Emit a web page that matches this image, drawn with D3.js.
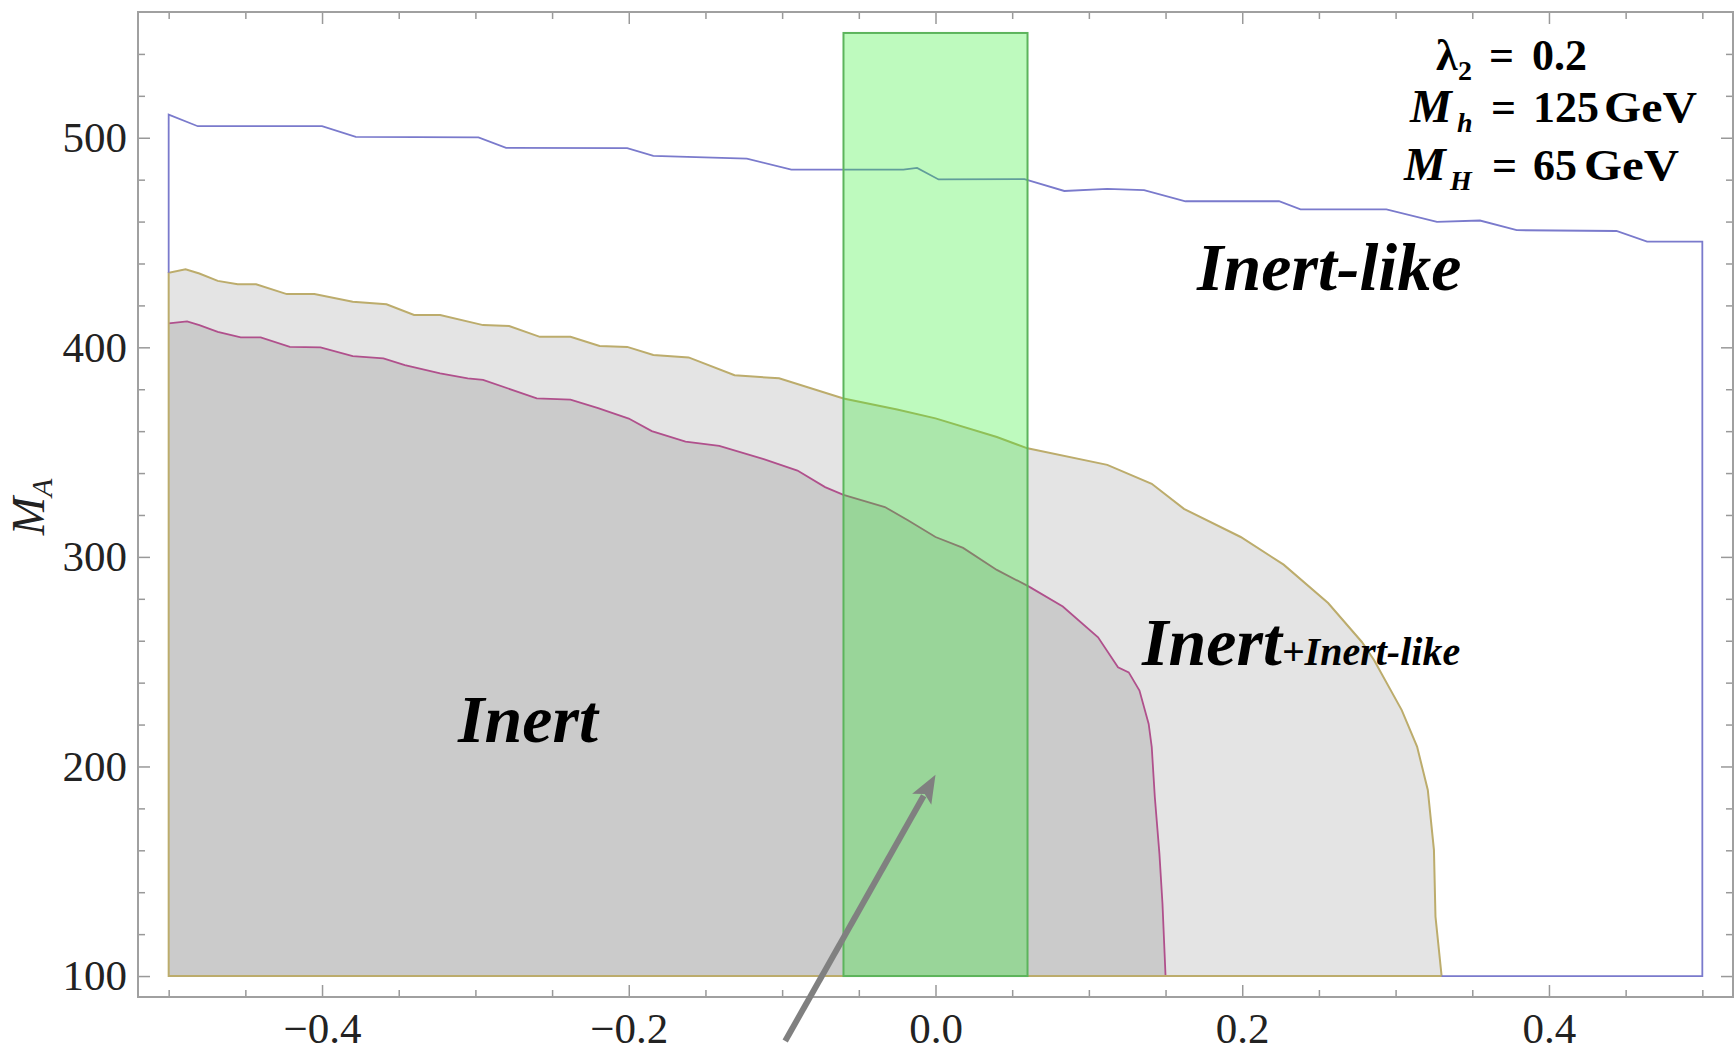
<!DOCTYPE html>
<html>
<head>
<meta charset="utf-8">
<script src="https://cdn.jsdelivr.net/npm/d3@7"></script>
<style>
  body { margin: 0; background: #fff; }
  text { font-family: "Liberation Serif", "DejaVu Serif", serif; }
</style>
</head>
<body>
<script>
// Upper boundary of the Inert-like region (blue), [lambda, M_A]
const inertLikeTop = [
    [-0.5, 511], [-0.481, 505.5], [-0.40, 505.5], [-0.378, 500.4], [-0.298, 500.2],
    [-0.28, 495.2], [-0.201, 495], [-0.184, 491.3], [-0.123, 490], [-0.094, 484.8],
    [-0.021, 484.8], [-0.012, 485.6], [0.002, 480.1], [0.058, 480.3], [0.084, 474.6],
    [0.112, 475.6], [0.136, 475], [0.163, 469.7], [0.224, 469.7], [0.238, 465.8],
    [0.294, 465.8], [0.327, 459.9], [0.355, 460.5], [0.379, 455.9], [0.444, 455.5],
    [0.464, 450.4], [0.5, 450.4]
];

// Upper boundary of the Inert + Inert-like region (olive)
const mixedTop = [
    [-0.5, 435.6], [-0.489, 437.2], [-0.48, 435.2], [-0.468, 431.7], [-0.455, 430.1],
    [-0.443, 430.1], [-0.423, 425.4], [-0.405, 425.4], [-0.38, 421.7], [-0.358, 420.5],
    [-0.34, 415.4], [-0.323, 415.4], [-0.295, 410.6], [-0.278, 410.2], [-0.258, 405],
    [-0.238, 405], [-0.219, 400.6], [-0.201, 400.2], [-0.184, 396.3], [-0.161, 395.2],
    [-0.131, 386.7], [-0.102, 385.2], [-0.06, 375.6], [-0.025, 370.3], [0.0, 366.1],
    [0.04, 357.2], [0.06, 351.8], [0.112, 343.9], [0.141, 334.9], [0.162, 322.9],
    [0.199, 309.5], [0.227, 296.3], [0.256, 278], [0.278, 259.4], [0.286, 250.7],
    [0.304, 226.9], [0.314, 209.5], [0.321, 188.8], [0.325, 160.2], [0.326, 128.4],
    [0.33, 100]
];

// Upper boundary of the Inert region (magenta)
const inertTop = [
    [-0.5, 411.4], [-0.488, 412.4], [-0.48, 410.6], [-0.468, 407.4], [-0.453, 404.7],
    [-0.44, 404.7], [-0.421, 400.2], [-0.401, 400], [-0.38, 395.8], [-0.36, 394.7],
    [-0.346, 391.5], [-0.323, 387.6], [-0.305, 385.2], [-0.295, 384.5], [-0.26, 375.6],
    [-0.238, 375], [-0.22, 371], [-0.2, 366], [-0.185, 360], [-0.163, 355],
    [-0.141, 353], [-0.112, 346.6], [-0.09, 341.2], [-0.072, 333.3], [-0.06, 329.6],
    [-0.033, 323.8], [-0.018, 317.5], [0.0, 309.5], [0.018, 304.3], [0.04, 293.8],
    [0.061, 285.8], [0.083, 276.3], [0.106, 261.6], [0.119, 247.3], [0.126, 244.9],
    [0.133, 236.2], [0.139, 220.3], [0.141, 209.2], [0.143, 185.4], [0.146, 158.4],
    [0.148, 134.5], [0.15, 100]
];

// Allowed band (green)
const bandLambda = [-0.06, 0.06];
const bandMass = [100, 550];

// Arrow pointing into the band: [tail, tip]
const arrowPoints = [[-0.098, 69], [0.0, 196]];

const xMajor = [-0.4, -0.2, 0, 0.2, 0.4];
const yMajor = [100, 200, 300, 400, 500];
const massFloor = 100;

function RegionChart() {
    const width = 1736;
    const height = 1052;
    const margin = { top: 12, right: 3, bottom: 55, left: 138 };

    const x = d3.scaleLinear().domain([-0.52, 0.52]).range([margin.left, width - margin.right]);
    const y = d3.scaleLinear().domain([90, 560]).range([height - margin.bottom, margin.top]);

    const line = d3.line().x(d => x(d[0])).y(d => y(d[1]));

    const svg = d3.create("svg")
        .attr("width", width)
        .attr("height", height)
        .attr("viewBox", [0, 0, width, height]);

    // regions: close each boundary down to the M_A = 100 floor
    const mixedPoly = [[-0.5, massFloor], ...mixedTop];
    const inertPoly = [[-0.5, massFloor], ...inertTop];

    svg.append("path")
        .attr("d", line(mixedPoly) + "Z")
        .attr("fill", "#e4e4e4");

    svg.append("path")
        .attr("d", line(inertPoly) + "Z")
        .attr("fill", "#cbcbcb");

    svg.append("path")
        .attr("d", line(inertTop))
        .attr("fill", "none")
        .attr("stroke", "#b0508c")
        .attr("stroke-width", 1.8);

    svg.append("path")
        .attr("d", line(mixedPoly) + "Z")
        .attr("fill", "none")
        .attr("stroke", "#bcac6c")
        .attr("stroke-width", 2);

    // Inert-like outline: left edge, top, right edge and floor beyond the olive region
    const blueEdge = [[-0.5, mixedTop[0][1]], ...inertLikeTop,
        [0.5, massFloor], [mixedTop[mixedTop.length - 1][0], massFloor]];
    svg.append("path")
        .attr("d", line(blueEdge))
        .attr("fill", "none")
        .attr("stroke", "#7a7acc")
        .attr("stroke-width", 1.8);

    // green band on top, semi-transparent
    svg.append("rect")
        .attr("x", x(bandLambda[0]))
        .attr("y", y(bandMass[1]))
        .attr("width", x(bandLambda[1]) - x(bandLambda[0]))
        .attr("height", y(bandMass[0]) - y(bandMass[1]))
        .attr("fill", "rgb(40,240,40)")
        .attr("fill-opacity", 0.3)
        .attr("stroke", "#5cb45c")
        .attr("stroke-width", 2);

    // frame with inward ticks on all four sides
    const xMinor = d3.range(-0.5, 0.5001, 0.05).filter(v => !xMajor.some(m => Math.abs(m - v) < 1e-6));
    const yMinor = d3.range(100, 541, 20).filter(v => v % 100 !== 0);
    const noDomain = g => {
        g.select(".domain").remove();
        g.selectAll(".tick line").attr("stroke", "#999").attr("stroke-width", 1.5);
    };
    const tickText = g => g.selectAll("text")
        .attr("font-size", 43)
        .attr("fill", "#222")
        .attr("font-family", '"Liberation Serif", serif');

    const bottom = y.range()[0], top = y.range()[1];
    const left = x.range()[0], right = x.range()[1];

    svg.append("g").attr("transform", `translate(0,${bottom})`)
        .call(d3.axisBottom(x).tickValues(xMajor).tickSize(-12).tickPadding(15).tickFormat(d3.format(".1f")))
        .call(noDomain)
        .call(tickText);
    svg.append("g").attr("transform", `translate(0,${bottom})`)
        .call(d3.axisBottom(x).tickValues(xMinor).tickSize(-7).tickFormat(""))
        .call(noDomain);
    svg.append("g").attr("transform", `translate(0,${top})`)
        .call(d3.axisTop(x).tickValues(xMajor).tickSize(-12).tickFormat(""))
        .call(noDomain);
    svg.append("g").attr("transform", `translate(0,${top})`)
        .call(d3.axisTop(x).tickValues(xMinor).tickSize(-7).tickFormat(""))
        .call(noDomain);

    svg.append("g").attr("transform", `translate(${left},0)`)
        .call(d3.axisLeft(y).tickValues(yMajor).tickSize(-12).tickPadding(11))
        .call(noDomain)
        .call(tickText);
    svg.append("g").attr("transform", `translate(${left},0)`)
        .call(d3.axisLeft(y).tickValues(yMinor).tickSize(-7).tickFormat(""))
        .call(noDomain);
    svg.append("g").attr("transform", `translate(${right},0)`)
        .call(d3.axisRight(y).tickValues(yMajor).tickSize(-12).tickFormat(""))
        .call(noDomain);
    svg.append("g").attr("transform", `translate(${right},0)`)
        .call(d3.axisRight(y).tickValues(yMinor).tickSize(-7).tickFormat(""))
        .call(noDomain);

    svg.append("rect")
        .attr("x", left).attr("y", top)
        .attr("width", right - left).attr("height", bottom - top)
        .attr("fill", "none")
        .attr("stroke", "#a0a0a0")
        .attr("stroke-width", 2);

    // y axis label M_A
    const ylab = svg.append("text")
        .attr("transform", `translate(44,507) rotate(-90)`)
        .attr("text-anchor", "middle")
        .attr("font-style", "italic")
        .attr("fill", "#222");
    ylab.append("tspan").attr("font-size", 46).text("M");
    ylab.append("tspan").attr("font-size", 30).attr("dy", 8).text("A");

    // arrow
    const [p0, p1] = arrowPoints.map(d => [x(d[0]), y(d[1])]);
    const len = Math.hypot(p1[0] - p0[0], p1[1] - p0[1]);
    const ux = (p1[0] - p0[0]) / len, uy = (p1[1] - p0[1]) / len;
    const headLen = 28, headHalf = 11;
    const base = [p1[0] - ux * headLen, p1[1] - uy * headLen];
    svg.append("line")
        .attr("x1", p0[0]).attr("y1", p0[1])
        .attr("x2", base[0] + ux * 4).attr("y2", base[1] + uy * 4)
        .attr("stroke", "#808080")
        .attr("stroke-width", 6);
    svg.append("path")
        .attr("d", `M${p1}L${base[0] - uy * headHalf},${base[1] + ux * headHalf}` +
            `L${base[0] + ux * 6},${base[1] + uy * 6}` +
            `L${base[0] + uy * headHalf},${base[1] - ux * headHalf}Z`)
        .attr("fill", "#808080");

    // region names
    const label = (px, py, size) => svg.append("text")
        .attr("x", px).attr("y", py)
        .attr("font-size", size)
        .attr("font-weight", "bold")
        .attr("font-style", "italic")
        .attr("fill", "#000");

    label(1197, 290, 68).text("Inert-like");
    label(458, 742, 68).text("Inert");
    const mixed = label(1142, 665, 68);
    mixed.append("tspan").text("Inert");
    mixed.append("tspan").attr("font-size", 40).text("+Inert-like");

    // parameter box
    const params = [
        { y: 70, parts: [{ t: "λ", x: 1436 }, { t: "2", x: 1458, sub: true }, { t: "=", x: 1489 }, { t: "0.2", x: 1532 }] },
        { y: 122, parts: [{ t: "M", x: 1410, it: true, size: 47 }, { t: "h", x: 1457, sub: true, it: true }, { t: "=", x: 1491 }, { t: "125", x: 1533 }, { t: "GeV", x: 1604, w: 93 }] },
        { y: 180, parts: [{ t: "M", x: 1404, it: true, size: 47 }, { t: "H", x: 1450, sub: true, it: true }, { t: "=", x: 1492 }, { t: "65", x: 1533 }, { t: "GeV", x: 1584, w: 95 }] }
    ];
    params.forEach(row => {
        row.parts.forEach(p => {
            const t = svg.append("text")
                .attr("x", p.x)
                .attr("y", row.y + (p.sub ? 10 : 0))
                .attr("font-size", p.sub ? 28 : (p.size || 44))
                .attr("font-weight", "bold")
                .attr("font-style", p.it ? "italic" : "normal")
                .attr("fill", "#000")
                .text(p.t);
            if (p.w) t.attr("textLength", p.w).attr("lengthAdjust", "spacingAndGlyphs");
        });
    });

    return svg.node();
}

document.body.appendChild(RegionChart());
</script>
</body>
</html>
